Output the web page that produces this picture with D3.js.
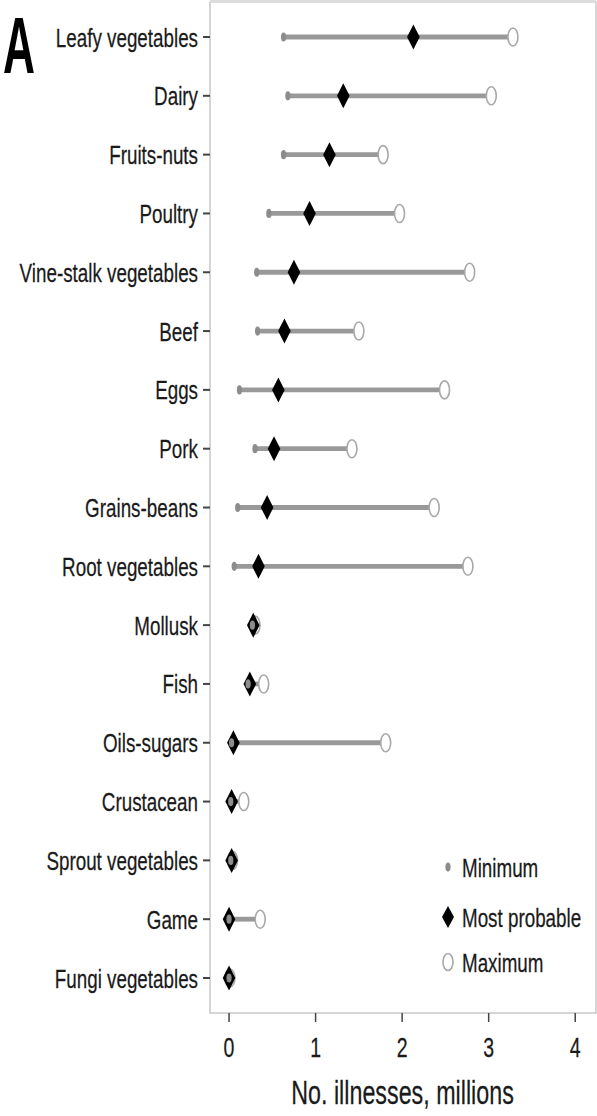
<!DOCTYPE html>
<html>
<head>
<meta charset="utf-8">
<script src="https://cdn.jsdelivr.net/npm/d3@7"></script>
<style>
  html, body { margin: 0; padding: 0; background: #fff; }
  svg { display: block; }
  text { font-family: "Liberation Sans", Arial, sans-serif; fill: #1a1a1a; }
</style>
</head>
<body>
<script>
// Food categories, ordered by most probable number of illnesses
const categories = [
  "Leafy vegetables", "Dairy", "Fruits-nuts", "Poultry", "Vine-stalk vegetables",
  "Beef", "Eggs", "Pork", "Grains-beans", "Root vegetables", "Mollusk", "Fish",
  "Oils-sugars", "Crustacean", "Sprout vegetables", "Game", "Fungi vegetables"
];
// Illness estimates, millions
const minimum      = [0.63, 0.68, 0.63, 0.46, 0.32, 0.33, 0.12, 0.30, 0.10, 0.06, 0.27, 0.22, 0.03, 0.02, 0.02, 0.00, 0.00];
const mostProbable = [2.13, 1.32, 1.16, 0.93, 0.75, 0.64, 0.57, 0.52, 0.44, 0.34, 0.28, 0.24, 0.05, 0.03, 0.03, 0.00, 0.00];
const maximum      = [3.28, 3.03, 1.78, 1.97, 2.78, 1.50, 2.49, 1.42, 2.37, 2.76, 0.30, 0.40, 1.81, 0.17, 0.04, 0.36, 0.01];
const xTicks = [0, 1, 2, 3, 4];
const legendLabels = ["Minimum", "Most probable", "Maximum"];
const panelLabel = "A";
const xTitle = "No. illnesses, millions";

const W = 597, H = 1116;
const panel = { left: 210, right: 596, top: 2, bottom: 1013 };
const SX = 0.71; // horizontal squeeze applied to the condensed lettering

const rows = categories.map((c, i) => ({
  cat: c, min: minimum[i], mp: mostProbable[i], max: maximum[i]
}));

const svg = d3.select("body").append("svg")
  .attr("width", W).attr("height", H);

const x = d3.scaleLinear().domain([-0.22, 4.24]).range([panel.left, panel.right]);
const y = d3.scalePoint().domain(categories).range([37, 978]);

// Panel frame
svg.append("rect")
  .attr("x", panel.left).attr("y", panel.top)
  .attr("width", panel.right - panel.left).attr("height", panel.bottom - panel.top)
  .attr("fill", "none").attr("stroke", "#c8c8c8").attr("stroke-width", 1.5);
svg.append("line")
  .attr("x1", panel.left).attr("x2", panel.right).attr("y1", 1.5).attr("y2", 1.5)
  .attr("stroke", "#dcdcdc").attr("stroke-width", 3);

// Squeezed text helper
function label(g, tx, ty, str, size, anchor, weight) {
  return g.append("text")
    .attr("transform", `translate(${tx},${ty}) scale(${SX},1)`)
    .attr("text-anchor", anchor)
    .attr("font-size", size)
    .attr("font-weight", weight || "normal")
    .style("stroke", "#1a1a1a").style("stroke-width", 0.25)
    .text(str);
}

// Y axis: ticks and category labels
const yAxis = svg.append("g");
yAxis.selectAll("line").data(categories).join("line")
  .attr("x1", panel.left - 7).attr("x2", panel.left)
  .attr("y1", d => y(d)).attr("y2", d => y(d))
  .attr("stroke", "#444").attr("stroke-width", 2);
categories.forEach(c => label(yAxis, 198, y(c) + 9.5, c, 26.5, "end"));

// X axis: ticks, labels and title
const xAxis = svg.append("g");
xAxis.selectAll("line").data(xTicks).join("line")
  .attr("x1", d => x(d)).attr("x2", d => x(d))
  .attr("y1", panel.bottom).attr("y2", panel.bottom + 9)
  .attr("stroke", "#444").attr("stroke-width", 1.5);
xTicks.forEach(t => label(xAxis, x(t), 1057, String(t), 27.5, "middle"));
label(xAxis, 402.5, 1104, xTitle, 32.8, "middle");

// Panel tag, squeezed to a narrow bold letter
svg.append("text")
  .attr("x", 3).attr("y", 73)
  .attr("text-anchor", "start")
  .attr("font-size", 79).attr("font-weight", "bold")
  .attr("textLength", 32).attr("lengthAdjust", "spacingAndGlyphs")
  .style("fill", "#000")
  .text(panelLabel);

// Range segments
const marks = svg.append("g");
marks.selectAll("line.range").data(rows).join("line")
  .attr("class", "range")
  .attr("x1", d => x(d.min)).attr("x2", d => x(d.max))
  .attr("y1", d => y(d.cat)).attr("y2", d => y(d.cat))
  .attr("stroke", "#999").attr("stroke-width", 4.8);

const diamond = (cx, cy) => `M${cx},${cy - 12.5} L${cx + 6.3},${cy} L${cx},${cy + 12.5} L${cx - 6.3},${cy} Z`;

// Maximum: open circles
marks.selectAll("ellipse.max").data(rows).join("ellipse")
  .attr("class", "max")
  .attr("cx", d => x(d.max)).attr("cy", d => y(d.cat))
  .attr("rx", 5).attr("ry", 9)
  .attr("fill", "#fff").attr("stroke", "#a8a8a8").attr("stroke-width", 1.6);

// Most probable: black diamonds
marks.selectAll("path.mp").data(rows).join("path")
  .attr("class", "mp")
  .attr("d", d => diamond(x(d.mp), y(d.cat)))
  .attr("fill", "#000");

// Minimum: small grey dots
marks.selectAll("ellipse.min").data(rows).join("ellipse")
  .attr("class", "min")
  .attr("cx", d => x(d.min)).attr("cy", d => y(d.cat))
  .attr("rx", 2.6).attr("ry", 4.6)
  .attr("fill", "#8c8c8c");

// Legend
const legend = svg.append("g");
const ly = [867, 917, 962];
const lx = 448;
legend.append("ellipse").attr("cx", lx).attr("cy", ly[0]).attr("rx", 2.6).attr("ry", 4.6).attr("fill", "#8c8c8c");
legend.append("path").attr("d", `M${lx},${ly[1] - 11} L${lx + 6},${ly[1]} L${lx},${ly[1] + 11} L${lx - 6},${ly[1]} Z`).attr("fill", "#000");
legend.append("ellipse").attr("cx", lx).attr("cy", ly[2]).attr("rx", 5).attr("ry", 8.5)
  .attr("fill", "#fff").attr("stroke", "#a8a8a8").attr("stroke-width", 1.6);
legendLabels.forEach((t, i) => label(legend, 462, ly[i] + 9.5, t, 26.5, "start"));
</script>
</body>
</html>
